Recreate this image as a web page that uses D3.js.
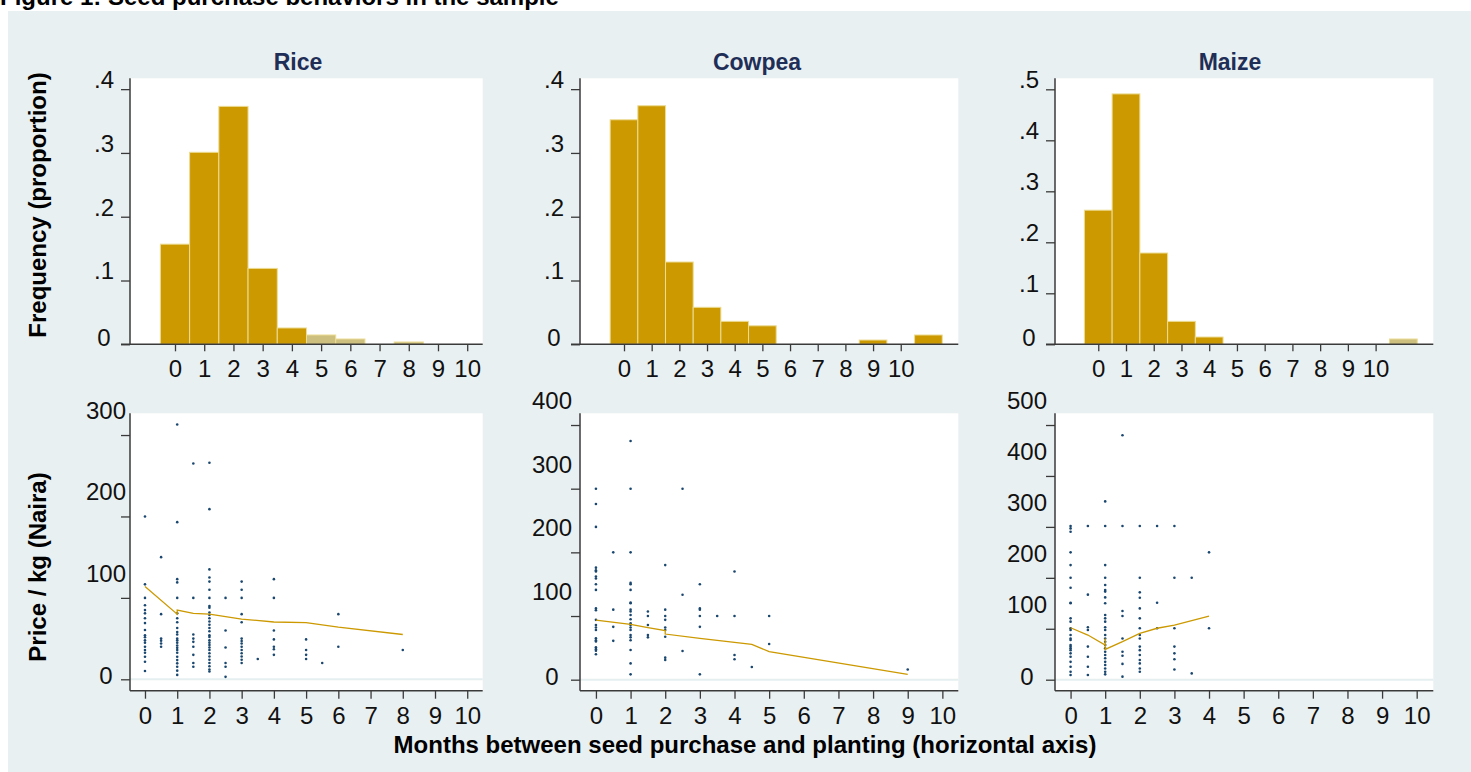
<!DOCTYPE html>
<html>
<head>
<meta charset="utf-8">
<script src="https://cdn.jsdelivr.net/npm/d3@7/dist/d3.min.js"></script>
<style>
  html, body { margin: 0; padding: 0; background: #ffffff; }
  svg { display: block; }
  text { font-family: "Liberation Sans", Arial, sans-serif; }
</style>
</head>
<body>
<svg id="chart" width="1471" height="772"></svg>
<script>
// ---------------- DATA ----------------
const figureTitle = "Figure 1: Seed purchase behaviors in the sample";
const categories = ["Rice", "Cowpea", "Maize"];
const histYTitle = "Frequency (proportion)";
const scatYTitle = "Price / kg (Naira)";
const xTitle = "Months between seed purchase and planting (horizontal axis)";

const histBins = [0, 1, 2, 3, 4, 5, 6, 7, 8, 9, 10, 11];
const riceFreq   = [0.157, 0.301, 0.373, 0.119, 0.0256, 0.0146, 0.0083, 0, 0.0036, 0, 0, 0];
const cowpeaFreq = [0.352, 0.374, 0.129, 0.058, 0.036, 0.029, 0, 0, 0, 0.0067, 0, 0.0146];
const maizeFreq  = [0.263, 0.491, 0.179, 0.045, 0.0143, 0, 0, 0, 0, 0, 0, 0.0104];

const monthTicks = [0, 1, 2, 3, 4, 5, 6, 7, 8, 9, 10];
const riceHistYTicks   = [0, 0.1, 0.2, 0.3, 0.4];
const cowpeaHistYTicks = [0, 0.1, 0.2, 0.3, 0.4];
const maizeHistYTicks  = [0, 0.1, 0.2, 0.3, 0.4, 0.5];
const riceScatYTicks   = [0, 100, 200, 300];
const cowpeaScatYTicks = [0, 100, 200, 300, 400];
const maizeScatYTicks  = [0, 100, 200, 300, 400, 500];

// price per kg observations, grouped by months between purchase and planting
const ricePrices = [
  [0,   [200,116.6,100,91,85,81,75,69,60.5,54,51.6,48,45,40,36,32.7,27.7,21.6,10.2]],
  [0.5, [150,80,50,47.5,44,40]],
  [1,   [313,193,123,119,100,81,75,70,63,58,55,50,48,45,41.5,38.6,36,32.7,27.7,23.6,19.6,15.5,10.6,5.4]],
  [1.5, [265,100,55,50,46,40,30,20,15.5]],
  [2,   [266,209,135,125,120,110,100,90,88,82,79,75,71,67,63,59,54,52,48,45,42,39,36,32,28,24,20,16,12,9.5]],
  [2.5, [100,60,39,20,15.5,3]],
  [3,   [120,110,100,80,70,50,47,44,40,36,32,28,24,20]],
  [3.5, [25]],
  [4,   [123,100,60,49,40,37,30]],
  [5,   [49,36,30,25]],
  [5.5, [20]],
  [6,   [80,40]],
  [8,   [36]]
];
const cowpeaPrices = [
  [0,   [300,276,240,176,172,170,162,159,150,141,112,109,94,86,82,78,65,62,60,51,48,45.5,40]],
  [0.5, [200,110,83,61]],
  [1,   [375,300,200,152,150,141,121,120,110,107,101.6,95,88.5,86,82,78,70,66.5,62,46.6,25.6,8.4]],
  [1.5, [107,100,86,70,66.5]],
  [2,   [180,110,100,94,82,78,67.5,34.6,31]],
  [2.5, [300,133.5,45]],
  [3,   [150,112,110,100,83,8.4]],
  [3.5, [100]],
  [4,   [170,100,38.7,32]],
  [4.5, [20]],
  [5,   [100,56]],
  [9,   [16]]
];
const maizePrices = [
  [0,   [301.7,297,290.6,250,225,200,180.6,151,150,120.4,114,101,97.5,87.7,81,78,68,65,61.5,58,51.7,45,35,25.5,15.7,9.2]],
  [0.5, [301.7,167,103,97.5,65,45,25.5,9.2]],
  [1,   [350,301.7,225,200,186,176,173,161.6,150,127,120.4,114,103,97.5,87.7,81,74.6,68,61.5,55,48.4,42,35,28.8,22,15.7,10.5]],
  [1.5, [480,301.7,135,125,81,55,47,31,6]],
  [2,   [301.7,200,171.5,161,140,120.4,101,87.7,81,65,58,48.4,38.6,32,22,15.7]],
  [2.5, [301.7,151,101]],
  [3,   [301.7,200,101,65,51.7,40,20]],
  [3.5, [200,12.4]],
  [4,   [250,101]]
];

// fitted price line
const riceLineX   = [0, 1, 1, 1.5, 2, 3, 4, 5, 6, 8];
const riceLineY   = [114, 80, 85, 81, 80, 74, 70.4, 69.6, 64, 55];
const cowpeaLineX = [0, 1, 1.5, 2, 2, 3, 4, 4.5, 5, 9];
const cowpeaLineY = [93.7, 87, 81.7, 77, 71.7, 65, 58.6, 55.5, 44, 8.4];
const maizeLineX  = [0, 0.5, 1, 1, 1, 1.5, 2, 2.5, 3, 4];
const maizeLineY  = [102, 87.7, 68, 81, 59.5, 74.6, 91, 101, 107, 125];

// ---------------- STYLE / LAYOUT ----------------
const BG = "#e9f0f2";
const GOLD = "#cc9900";
const LIGHT_GOLD = "#cdc07f";
const NAVY = "#1a476f";
const TITLE_NAVY = "#1f2e56";
const AXIS = "#3a3a3a";
const lightBins = { Rice: [5, 6, 8], Cowpea: [], Maize: [11] };

const histLayout = {
  Rice:   { left: 130, right: 482.7, xDom: [-1.54, 10.53], yDom: [0, 0.417] },
  Cowpea: { left: 580, right: 958.3, xDom: [-1.59, 12.08], yDom: [0, 0.417] },
  Maize:  { left: 1055, right: 1433.3, xDom: [-1.56, 12.08], yDom: [0, 0.5216] }
};
const histTop = 78.3, histBottom = 344.3;
const scatLayout = {
  Rice:   { left: 130, right: 482.7, xDom: [-0.465, 10.48], yDom: [-14, 326.7] },
  Cowpea: { left: 580, right: 958.3, xDom: [-0.46, 10.46], yDom: [-17.3, 418.4] },
  Maize:  { left: 1055, right: 1433.3, xDom: [-0.45, 10.48], yDom: [-21.6, 523] }
};
const scatTop = 413.3, scatBottom = 690.7;
const titleX = { Rice: 298, Cowpea: 757, Maize: 1230 };

const freqs = { Rice: riceFreq, Cowpea: cowpeaFreq, Maize: maizeFreq };
const histYTicks = { Rice: riceHistYTicks, Cowpea: cowpeaHistYTicks, Maize: maizeHistYTicks };
const scatYTicks = { Rice: riceScatYTicks, Cowpea: cowpeaScatYTicks, Maize: maizeScatYTicks };
const prices = { Rice: ricePrices, Cowpea: cowpeaPrices, Maize: maizePrices };
const lines = {
  Rice: [riceLineX, riceLineY], Cowpea: [cowpeaLineX, cowpeaLineY], Maize: [maizeLineX, maizeLineY]
};

const fmtProp = v => v === 0 ? "0" : d3.format(".1f")(v).replace(/^0\./, ".");

const svg = d3.select("#chart");

svg.append("rect").attr("x", 8).attr("y", 11).attr("width", 1463).attr("height", 761).attr("fill", BG);

svg.append("text").attr("x", 0).attr("y", 5)
  .attr("font-size", 24).attr("font-weight", "bold").attr("fill", "#000")
  .text(figureTitle);

function styleYAxis(g, cx, dyZero, dyOther) {
  g.select(".domain").remove();
  g.selectAll(".tick line").attr("stroke", AXIS).attr("stroke-width", 1.3);
  g.selectAll(".tick text")
    .attr("x", cx).attr("text-anchor", "middle").attr("dy", "0.35em")
    .attr("font-size", 24).attr("fill", "#111")
    .attr("transform", d => `translate(0,${d === 0 ? dyZero : dyOther})`);
}
function styleXAxis(g, ty) {
  g.select(".domain").remove();
  g.selectAll(".tick line").attr("stroke", AXIS).attr("stroke-width", 1.3);
  g.selectAll(".tick text")
    .attr("y", ty).attr("dy", "0.35em")
    .attr("font-size", 24).attr("fill", "#111");
}

categories.forEach(cat => {
  // ---------- histogram ----------
  const hl = histLayout[cat];
  const x = d3.scaleLinear().domain(hl.xDom).range([hl.left, hl.right]);
  const y = d3.scaleLinear().domain(hl.yDom).range([histBottom, histTop]);

  svg.append("rect").attr("x", hl.left).attr("y", histTop)
    .attr("width", hl.right - hl.left).attr("height", histBottom - histTop).attr("fill", "#fff");

  svg.append("text").attr("x", titleX[cat]).attr("y", 62).attr("dy", "0.35em")
    .attr("text-anchor", "middle").attr("font-size", 23).attr("font-weight", "bold")
    .attr("fill", TITLE_NAVY).text(cat);

  const bars = histBins.map((b, i) => ({ b, v: freqs[cat][i] })).filter(d => d.v > 0);
  svg.append("g").selectAll("rect").data(bars).join("rect")
    .attr("x", d => x(d.b - 0.5))
    .attr("y", d => y(d.v))
    .attr("width", d => x(d.b + 0.5) - x(d.b - 0.5))
    .attr("height", d => y(0) - y(d.v))
    .attr("fill", d => lightBins[cat].includes(d.b) ? LIGHT_GOLD : GOLD)
    .attr("stroke", "#ecdc94").attr("stroke-width", 1);

  const gy = svg.append("g").attr("transform", `translate(${hl.left},0)`)
    .call(d3.axisLeft(y).tickValues(histYTicks[cat]).tickSize(9).tickFormat(fmtProp));
  styleYAxis(gy, -26, -7.5, -10);

  const gx = svg.append("g").attr("transform", `translate(0,${histBottom})`)
    .call(d3.axisBottom(x).tickValues(monthTicks).tickSize(7).tickFormat(d3.format("d")));
  styleXAxis(gx, 24);

  svg.append("line").attr("x1", hl.left).attr("x2", hl.left).attr("y1", histTop).attr("y2", histBottom)
    .attr("stroke", AXIS).attr("stroke-width", 1.5);
  svg.append("line").attr("x1", hl.left - 9).attr("x2", hl.right).attr("y1", histBottom).attr("y2", histBottom)
    .attr("stroke", AXIS).attr("stroke-width", 1.5);

  // ---------- scatter ----------
  const sl = scatLayout[cat];
  const sx = d3.scaleLinear().domain(sl.xDom).range([sl.left, sl.right]);
  const sy = d3.scaleLinear().domain(sl.yDom).range([scatBottom, scatTop]);

  svg.append("rect").attr("x", sl.left).attr("y", scatTop)
    .attr("width", sl.right - sl.left).attr("height", scatBottom - scatTop).attr("fill", "#fff");

  svg.append("line").attr("x1", sl.left).attr("x2", sl.right).attr("y1", sy(0)).attr("y2", sy(0))
    .attr("stroke", "#e6eff0").attr("stroke-width", 2);

  const pts = [];
  prices[cat].forEach(([m, arr]) => arr.forEach(p => pts.push({ m, p })));
  svg.append("g").selectAll("circle").data(pts).join("circle")
    .attr("cx", d => sx(d.m)).attr("cy", d => sy(d.p)).attr("r", 1.3)
    .attr("fill", NAVY);

  const [lx, ly] = lines[cat];
  const lineData = lx.map((m, i) => [m, ly[i]]);
  svg.append("path").datum(lineData)
    .attr("d", d3.line().x(d => sx(d[0])).y(d => sy(d[1])))
    .attr("fill", "none").attr("stroke", GOLD).attr("stroke-width", 1.3);

  const sgy = svg.append("g").attr("transform", `translate(${sl.left},0)`)
    .call(d3.axisLeft(sy).tickValues(scatYTicks[cat]).tickSize(9).tickFormat(d3.format("d")));
  styleYAxis(sgy, cat === "Rice" ? -24 : -28, -4, -25);

  const sgx = svg.append("g").attr("transform", `translate(0,${scatBottom})`)
    .call(d3.axisBottom(sx).tickValues(monthTicks).tickSize(8).tickFormat(d3.format("d")));
  styleXAxis(sgx, 24.5);

  svg.append("line").attr("x1", sl.left).attr("x2", sl.left).attr("y1", scatTop).attr("y2", scatBottom)
    .attr("stroke", AXIS).attr("stroke-width", 1.5);
  svg.append("line").attr("x1", sl.left).attr("x2", sl.right).attr("y1", scatBottom).attr("y2", scatBottom)
    .attr("stroke", AXIS).attr("stroke-width", 1.5);
});

// axis titles
svg.append("text").attr("transform", "translate(38,205) rotate(-90)")
  .attr("text-anchor", "middle").attr("dy", "0.35em")
  .attr("font-size", 24).attr("font-weight", "bold").attr("fill", "#000").text(histYTitle);
svg.append("text").attr("transform", "translate(38,567) rotate(-90)")
  .attr("text-anchor", "middle").attr("dy", "0.35em")
  .attr("font-size", 24).attr("font-weight", "bold").attr("fill", "#000").text(scatYTitle);
svg.append("text").attr("x", 745).attr("y", 745).attr("dy", "0.35em")
  .attr("text-anchor", "middle").attr("font-size", 24).attr("font-weight", "bold")
  .attr("fill", "#000").text(xTitle);
</script>
</body>
</html>
